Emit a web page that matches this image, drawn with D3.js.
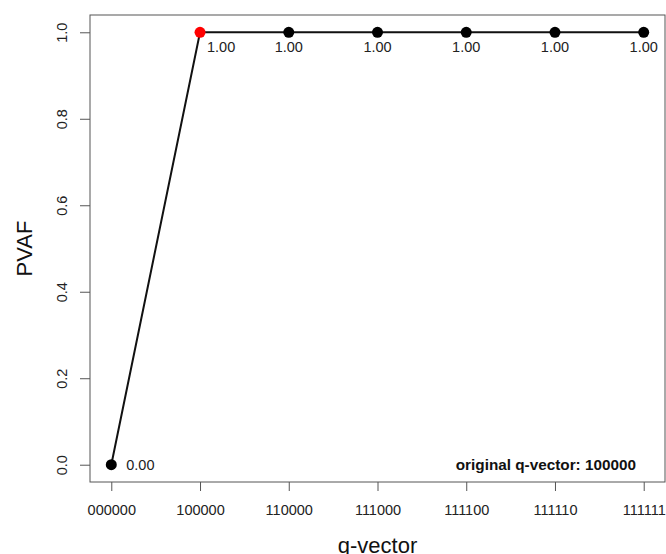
<!DOCTYPE html>
<html>
<head>
<meta charset="utf-8">
<script src="https://d3js.org/d3.v7.min.js"></script>
<style>
  body { margin: 0; background: #fff; }
  svg { font-family: "Liberation Sans", Arial, sans-serif; }
</style>
</head>
<body>
<div id="chart"></div>
<script>
// q-vector categories along the x axis and their PVAF values
const qVectors = ['000000', '100000', '110000', '111000', '111100', '111110', '111111'];
const pvaf = [0.00, 1.00, 1.00, 1.00, 1.00, 1.00, 1.00];
const yTicks = [0.0, 0.2, 0.4, 0.6, 0.8, 1.0];
const originalQ = '100000';

const width = 666, height = 554;
const plot = { left: 90, right: 665, top: 15, bottom: 482 };

const svg = d3.select('#chart').append('svg')
    .attr('width', width)
    .attr('height', height);

// R style: 4% padding on both ends
const xPad = (qVectors.length - 1) * 0.04;
const x = d3.scaleLinear()
    .domain([-xPad, qVectors.length - 1 + xPad])
    .range([plot.left, plot.right]);
const y = d3.scaleLinear()
    .domain([-0.04, 1.04])
    .range([plot.bottom, plot.top]);

// frame
svg.append('rect')
    .attr('x', plot.left)
    .attr('y', plot.top)
    .attr('width', plot.right - plot.left)
    .attr('height', plot.bottom - plot.top)
    .attr('fill', 'none')
    .attr('stroke', '#555')
    .attr('stroke-width', 1);

// x axis
const xAxis = svg.append('g')
    .attr('transform', `translate(0,${plot.bottom})`)
    .call(d3.axisBottom(x)
        .tickValues(d3.range(qVectors.length))
        .tickFormat(i => qVectors[i])
        .tickSize(9)
        .tickPadding(14));
xAxis.select('.domain').remove();
xAxis.selectAll('line').attr('stroke', '#555');
xAxis.selectAll('text')
    .attr('font-size', 14.5)
    .attr('fill', '#222')
    .attr('font-family', '"Liberation Sans", Arial, sans-serif');

// y axis
const yAxis = svg.append('g')
    .attr('transform', `translate(${plot.left},0)`)
    .call(d3.axisLeft(y)
        .tickValues(yTicks)
        .tickFormat(d3.format('.1f'))
        .tickSize(10));
yAxis.select('.domain').remove();
yAxis.selectAll('line').attr('stroke', '#555');
yAxis.selectAll('text')
    .attr('font-size', 14.5)
    .attr('fill', '#222')
    .attr('font-family', '"Liberation Sans", Arial, sans-serif')
    .attr('text-anchor', 'middle')
    .attr('dy', null)
    .attr('x', null)
    .attr('transform', 'translate(-28,0) rotate(-90)')
    .attr('dominant-baseline', 'central');

// axis titles
svg.append('text')
    .attr('x', (plot.left + plot.right) / 2)
    .attr('y', 545)
    .attr('text-anchor', 'middle')
    .attr('dominant-baseline', 'central')
    .attr('font-size', 22)
    .attr('fill', '#111')
    .text('q-vector');

svg.append('text')
    .attr('transform', `translate(24,${(plot.top + plot.bottom) / 2}) rotate(-90)`)
    .attr('text-anchor', 'middle')
    .attr('dominant-baseline', 'central')
    .attr('font-size', 22)
    .attr('fill', '#111')
    .text('PVAF');

// line
const line = d3.line()
    .x((d, i) => x(i))
    .y(d => y(d));
svg.append('path')
    .datum(pvaf)
    .attr('d', line)
    .attr('fill', 'none')
    .attr('stroke', '#111')
    .attr('stroke-width', 2);

// points
svg.selectAll('.pt')
    .data(pvaf)
    .join('circle')
    .attr('class', 'pt')
    .attr('cx', (d, i) => x(i))
    .attr('cy', d => y(d))
    .attr('r', 5.5)
    .attr('fill', (d, i) => qVectors[i] === originalQ ? '#ff0000' : '#000');

// value labels
svg.selectAll('.val')
    .data(pvaf)
    .join('text')
    .attr('class', 'val')
    .attr('x', (d, i) => i === 0 ? x(i) + 15 : i === 1 ? x(i) + 7 : x(i))
    .attr('y', (d, i) => i === 0 ? y(d) : y(d) + 15)
    .attr('text-anchor', (d, i) => i <= 1 ? 'start' : 'middle')
    .attr('dominant-baseline', 'central')
    .attr('font-size', 14.5)
    .attr('fill', '#222')
    .text(d => d3.format('.2f')(d));

// original q-vector note
svg.append('text')
    .attr('x', 636)
    .attr('y', y(0))
    .attr('text-anchor', 'end')
    .attr('dominant-baseline', 'central')
    .attr('font-size', 15.3)
    .attr('font-weight', 'bold')
    .attr('fill', '#111')
    .text(`original q-vector: ${originalQ}`);
</script>
</body>
</html>
